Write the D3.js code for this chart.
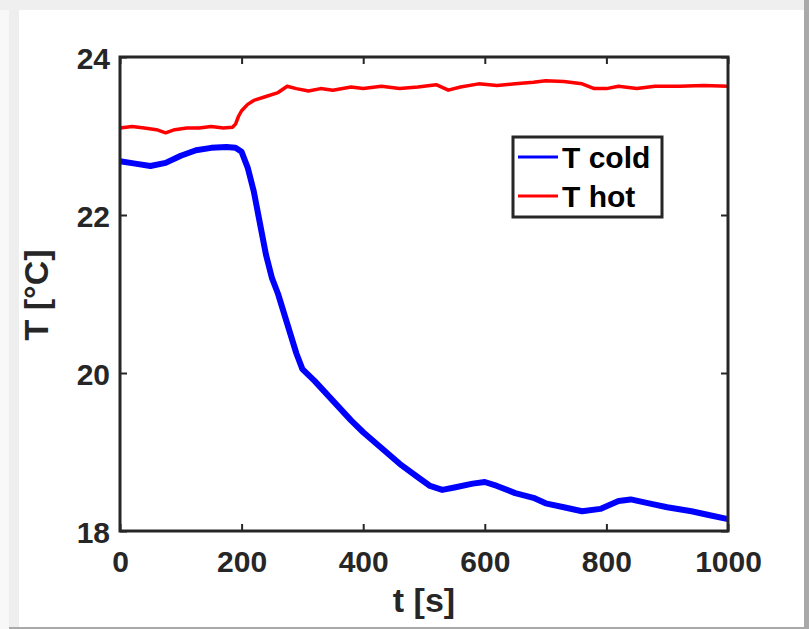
<!DOCTYPE html>
<html>
<head>
<meta charset="utf-8">
<script src="https://cdn.jsdelivr.net/npm/d3@7"></script>
<style>
  body { margin: 0; background: #fff; }
  svg { display: block; font-family: "Liberation Sans", Arial, sans-serif; font-weight: bold; }
  .tick text { fill: #262626; font-size: 30px; }
  .tick line { stroke: #262626; stroke-width: 2; }
  .domain { display: none; }
</style>
</head>
<body>
<svg width="809" height="629"></svg>
<script>
// time axis, seconds
const coldTime = [0, 25, 50, 75, 100, 125, 150, 175, 190, 200, 210, 220, 230, 240, 250, 260, 270, 280, 290, 300,
  320, 350, 380, 400, 430, 460, 490, 510, 530, 550, 580, 600, 620, 650, 680, 700, 730, 760, 790, 820, 840, 870,
  900, 940, 970, 1000];
const coldTemp = [22.68, 22.65, 22.62, 22.66, 22.75, 22.82, 22.85, 22.86, 22.85, 22.8, 22.6, 22.3, 21.9, 21.5,
  21.2, 21.0, 20.75, 20.5, 20.25, 20.05, 19.9, 19.65, 19.4, 19.25, 19.05, 18.85, 18.68, 18.57, 18.52, 18.55,
  18.6, 18.62, 18.57, 18.48, 18.42, 18.35, 18.3, 18.25, 18.28, 18.38, 18.4, 18.35, 18.3, 18.25, 18.2, 18.15];

const hotTime = [0, 20, 40, 60, 75, 90, 110, 130, 150, 170, 185, 190, 195, 200, 210, 220, 240, 260, 275, 290,
  310, 330, 350, 380, 400, 430, 460, 490, 520, 540, 560, 590, 620, 650, 680, 700, 730, 760, 780, 800, 820, 850,
  880, 920, 960, 1000];
const hotTemp = [23.1, 23.12, 23.1, 23.08, 23.04, 23.08, 23.1, 23.1, 23.12, 23.1, 23.11, 23.15, 23.25, 23.32,
  23.4, 23.45, 23.5, 23.55, 23.63, 23.6, 23.57, 23.6, 23.58, 23.62, 23.6, 23.63, 23.6, 23.62, 23.65, 23.58,
  23.62, 23.66, 23.64, 23.66, 23.68, 23.7, 23.69, 23.66, 23.6, 23.6, 23.63, 23.6, 23.63, 23.63, 23.64, 23.63];

const xTicks = [0, 200, 400, 600, 800, 1000];
const yTicks = [18, 20, 22, 24];
const seriesNames = ['T cold', 'T hot'];
const seriesColors = ['#0000ff', '#ff0000'];

const svg = d3.select('svg');
const margin = { top: 57, left: 120, right: 81, bottom: 98 };
const width = +svg.attr('width');
const height = +svg.attr('height');
const innerWidth = width - margin.left - margin.right;
const innerHeight = height - margin.top - margin.bottom;

// window frame
svg.append('rect').attr('width', width).attr('height', height).attr('fill', '#f8f8f8');
svg.append('rect').attr('width', width).attr('height', 10).attr('fill', '#efefef');
svg.append('rect').attr('x', 9).attr('y', 10).attr('width', 10).attr('height', height - 10).attr('fill', '#eeeeee');
svg.append('rect').attr('x', 804).attr('width', 5).attr('height', height).attr('fill', '#a9a9a9');
svg.append('rect').attr('x', 9).attr('y', 627).attr('width', 800).attr('height', 2).attr('fill', '#a9a9a9');
svg.append('rect').attr('x', 19).attr('y', 10).attr('width', 785).attr('height', 617).attr('fill', '#fff');

const xScale = d3.scaleLinear().domain([0, 1000]).range([0, innerWidth]);
const yScale = d3.scaleLinear().domain([18, 24]).range([innerHeight, 0]);
const fmt = d3.format('d');

const g = svg.append('g').attr('transform', `translate(${margin.left},${margin.top})`);

g.append('g')
  .attr('transform', `translate(0,${innerHeight})`)
  .call(d3.axisBottom(xScale).tickValues(xTicks).tickFormat(fmt)
    .tickSizeInner(-7).tickSizeOuter(0))
  .selectAll('text')
    .attr('dy', null)
    .attr('y', 41);
g.append('g')
  .call(d3.axisTop(xScale).tickValues(xTicks).tickSizeInner(-7).tickSizeOuter(0))
  .selectAll('text').remove();
g.append('g')
  .call(d3.axisLeft(yScale).tickValues(yTicks).tickFormat(fmt)
    .tickSizeInner(-7).tickSizeOuter(0))
  .selectAll('text')
    .attr('dy', null)
    .attr('x', -10)
    .attr('y', 11);
g.append('g')
  .attr('transform', `translate(${innerWidth},0)`)
  .call(d3.axisRight(yScale).tickValues(yTicks).tickSizeInner(-7).tickSizeOuter(0))
  .selectAll('text').remove();

const line = d3.line()
  .x(d => xScale(d[0]))
  .y(d => yScale(d[1]));

g.append('path')
  .datum(coldTime.map((t, i) => [t, coldTemp[i]]))
  .attr('d', line)
  .attr('fill', 'none')
  .attr('stroke', seriesColors[0])
  .attr('stroke-width', 6)
  .attr('stroke-linejoin', 'round');

g.append('path')
  .datum(hotTime.map((t, i) => [t, hotTemp[i]]))
  .attr('d', line)
  .attr('fill', 'none')
  .attr('stroke', seriesColors[1])
  .attr('stroke-width', 3.5)
  .attr('stroke-linejoin', 'round');

// axes box
g.append('rect')
  .attr('width', innerWidth)
  .attr('height', innerHeight)
  .attr('fill', 'none')
  .attr('stroke', '#262626')
  .attr('stroke-width', 3);

// axis labels
svg.append('text')
  .attr('x', margin.left + innerWidth / 2)
  .attr('y', 612)
  .attr('text-anchor', 'middle')
  .attr('font-size', 34)
  .attr('fill', '#262626')
  .text('t [s]');

svg.append('text')
  .attr('transform', 'translate(48,295) rotate(-90)')
  .attr('text-anchor', 'middle')
  .attr('font-size', 34)
  .attr('fill', '#262626')
  .text('T [°C]');

// legend
const legend = svg.append('g').attr('transform', 'translate(513,137)');
legend.append('rect')
  .attr('width', 149)
  .attr('height', 80)
  .attr('fill', '#fff')
  .attr('stroke', '#262626')
  .attr('stroke-width', 3);

const item = legend.selectAll('.item').data(seriesNames)
  .enter().append('g')
    .attr('class', 'item')
    .attr('transform', (d, i) => `translate(0,${20 + i * 39})`);
item.append('line')
  .attr('x1', 5).attr('x2', 45)
  .attr('stroke', (d, i) => seriesColors[i])
  .attr('stroke-width', 3);
item.append('text')
  .attr('x', 49)
  .attr('y', 11)
  .attr('font-size', 30)
  .attr('fill', '#000')
  .text(d => d);
</script>
</body>
</html>
